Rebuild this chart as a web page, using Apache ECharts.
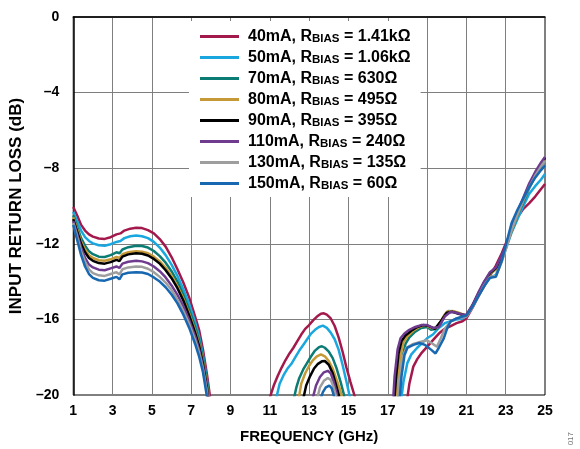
<!DOCTYPE html>
<html>
<head>
<meta charset="utf-8">
<script src="https://cdn.jsdelivr.net/npm/echarts@6/dist/echarts.min.js"></script>
<style>
html,body{margin:0;padding:0;background:#fff;}
#chart{width:580px;height:449px;}
</style>
</head>
<body>
<div id="chart"></div>
<script>
// ---- Data ----
const currents = ['40mA', '50mA', '70mA', '80mA', '90mA', '110mA', '130mA', '150mA'];
const rbias = ['1.41kΩ', '1.06kΩ', '630Ω', '495Ω', '395Ω', '240Ω', '135Ω', '60Ω'];
const colors = ['#A3194B', '#1AA7DF', '#0B7C73', '#C59A36', '#000000', '#6F3B8F', '#9E9E9E', '#1767B1'];

const xTicks = [1, 3, 5, 7, 9, 11, 13, 15, 17, 19, 21, 23, 25];
const yTicks = [0, -4, -8, -12, -16, -20];

// each curve: [frequency GHz, return loss dB]; null breaks where trace leaves the plot
const curve40mA = [
  [1,-10.05],[1.2,-10.5],[1.4,-11.0],[1.6,-11.3],[1.8,-11.5],[2.0,-11.62],[2.3,-11.72],[2.6,-11.74],[2.9,-11.65],[3.2,-11.5],[3.4,-11.45],[3.6,-11.3],[3.9,-11.2],[4.2,-11.15],[4.5,-11.17],[4.8,-11.28],[5.1,-11.45],[5.4,-11.75],[5.7,-12.15],[6.0,-12.7],[6.3,-13.35],[6.6,-14.05],[6.9,-14.85],[7.2,-15.85],[7.4,-16.55],[7.6,-17.6],[7.8,-18.9],[8.0,-20.4],
  null,
  [10.95,-20.3],[11.2,-19.5],[11.4,-19.0],[11.6,-18.55],[11.8,-18.15],[12.0,-17.8],[12.2,-17.5],[12.4,-17.15],[12.6,-16.8],[12.8,-16.5],[13.0,-16.3],[13.2,-16.05],[13.4,-15.85],[13.6,-15.7],[13.75,-15.68],[13.9,-15.75],[14.1,-15.95],[14.3,-16.35],[14.5,-16.95],[14.7,-17.7],[14.9,-18.55],[15.1,-19.3],[15.3,-20.0],[15.4,-20.4],
  null,
  [17.98,-20.3],[18.1,-19.4],[18.3,-18.5],[18.5,-18.1],[18.7,-17.8],[19.0,-17.45],[19.3,-17.1],[19.6,-16.75],[19.9,-16.5],[20.2,-16.35],[20.5,-16.2],[20.8,-16.1],[21.0,-15.95],[21.3,-15.4],[21.6,-14.8],[21.9,-14.25],[22.2,-13.7],[22.5,-13.15],[22.8,-12.5],[23.0,-12.0],[23.3,-11.3],[23.6,-10.6],[23.9,-10.15],[24.2,-9.85],[24.5,-9.5],[24.8,-9.1],[25,-8.84]
];
const curve50mA = [
  [1,-10.3],[1.2,-10.8],[1.4,-11.3],[1.6,-11.65],[1.8,-11.85],[2.0,-11.98],[2.3,-12.08],[2.6,-12.1],[2.9,-12.02],[3.2,-11.9],[3.4,-11.85],[3.6,-11.7],[3.9,-11.6],[4.2,-11.56],[4.5,-11.6],[4.8,-11.7],[5.1,-11.9],[5.4,-12.2],[5.7,-12.6],[6.0,-13.1],[6.3,-13.7],[6.6,-14.4],[6.9,-15.2],[7.2,-16.15],[7.4,-16.9],[7.6,-17.9],[7.8,-19.2],[7.95,-20.4],
  null,
  [11.3,-20.3],[11.5,-19.4],[11.7,-18.95],[11.9,-18.6],[12.1,-18.35],[12.3,-18.0],[12.5,-17.65],[12.7,-17.35],[12.9,-17.05],[13.1,-16.75],[13.3,-16.55],[13.5,-16.4],[13.7,-16.33],[13.9,-16.45],[14.1,-16.7],[14.3,-17.05],[14.5,-17.6],[14.7,-18.4],[14.9,-19.3],[15.05,-20.0],[15.15,-20.4],
  null,
  [17.68,-20.3],[17.8,-19.3],[18.0,-18.3],[18.2,-17.85],[18.5,-17.5],[18.8,-17.2],[19.0,-17.0],[19.3,-16.8],[19.6,-16.45],[19.9,-16.2],[20.2,-16.1],[20.5,-16.0],[20.8,-15.95],[21.0,-15.8],[21.3,-15.3],[21.6,-14.75],[21.9,-14.2],[22.2,-13.8],[22.5,-13.65],[22.8,-12.9],[23.0,-12.3],[23.3,-11.4],[23.6,-10.7],[23.9,-10.0],[24.2,-9.35],[24.5,-8.95],[24.8,-8.6],[25,-8.3]
];
const curve70mA = [
  [1,-10.5],[1.2,-11.1],[1.4,-11.7],[1.6,-12.1],[1.8,-12.4],[2.0,-12.55],[2.3,-12.68],[2.6,-12.7],[2.9,-12.6],[3.2,-12.45],[3.35,-12.5],[3.5,-12.3],[3.8,-12.18],[4.2,-12.1],[4.5,-12.12],[4.8,-12.2],[5.1,-12.38],[5.4,-12.65],[5.7,-13.0],[6.0,-13.45],[6.3,-14.0],[6.6,-14.7],[6.9,-15.5],[7.2,-16.4],[7.4,-17.1],[7.6,-18.05],[7.8,-19.3],[7.93,-20.4],
  null,
  [12.2,-20.3],[12.35,-19.6],[12.5,-19.1],[12.7,-18.65],[12.9,-18.3],[13.1,-17.95],[13.3,-17.65],[13.5,-17.47],[13.65,-17.42],[13.8,-17.5],[14.0,-17.7],[14.2,-18.05],[14.4,-18.6],[14.6,-19.3],[14.75,-19.9],[14.85,-20.4],
  null,
  [17.5,-20.3],[17.6,-19.2],[17.75,-18.0],[17.9,-17.3],[18.1,-16.95],[18.4,-16.65],[18.7,-16.45],[19.0,-16.4],[19.2,-16.55],[19.5,-16.5],[19.7,-16.2],[19.9,-15.75],[20.1,-15.55],[20.4,-15.6],[20.7,-15.7],[21.0,-15.8],[21.3,-15.3],[21.6,-14.7],[21.9,-14.1],[22.2,-13.6],[22.5,-13.35],[22.8,-12.75],[23.0,-12.2],[23.3,-11.35],[23.6,-10.5],[23.9,-9.8],[24.2,-9.05],[24.5,-8.45],[24.8,-7.9],[25,-7.5]
];
const curve80mA = [
  [1,-10.6],[1.2,-11.25],[1.4,-11.9],[1.6,-12.3],[1.8,-12.6],[2.0,-12.75],[2.3,-12.87],[2.6,-12.9],[2.9,-12.82],[3.2,-12.7],[3.35,-12.75],[3.5,-12.55],[3.8,-12.45],[4.2,-12.4],[4.5,-12.42],[4.8,-12.5],[5.1,-12.68],[5.4,-12.93],[5.7,-13.27],[6.0,-13.7],[6.3,-14.25],[6.6,-14.9],[6.9,-15.7],[7.2,-16.6],[7.4,-17.3],[7.6,-18.25],[7.8,-19.5],[7.9,-20.4],
  null,
  [12.45,-20.3],[12.6,-19.4],[12.8,-18.85],[13.0,-18.45],[13.2,-18.15],[13.4,-17.95],[13.6,-17.85],[13.8,-17.95],[14.0,-18.2],[14.2,-18.6],[14.4,-19.2],[14.6,-19.8],[14.72,-20.4],
  null,
  [17.42,-20.3],[17.5,-19.2],[17.65,-17.9],[17.8,-17.2],[18.0,-16.9],[18.3,-16.6],[18.6,-16.4],[18.9,-16.3],[19.2,-16.45],[19.5,-16.45],[19.8,-15.9],[20.0,-15.6],[20.3,-15.55],[20.6,-15.65],[21.0,-15.8],[21.3,-15.3],[21.6,-14.7],[21.9,-14.1],[22.2,-13.6],[22.5,-13.35],[22.8,-12.75],[23.0,-12.2],[23.3,-11.3],[23.6,-10.45],[23.9,-9.7],[24.2,-8.95],[24.5,-8.35],[24.8,-7.8],[25,-7.55]
];
const curve90mA = [
  [1,-10.7],[1.2,-11.35],[1.4,-12.0],[1.6,-12.45],[1.8,-12.75],[2.0,-12.9],[2.3,-13.02],[2.6,-13.05],[2.9,-12.97],[3.2,-12.85],[3.35,-12.92],[3.5,-12.68],[3.8,-12.56],[4.2,-12.5],[4.5,-12.53],[4.8,-12.62],[5.1,-12.8],[5.4,-13.05],[5.7,-13.4],[6.0,-13.82],[6.3,-14.35],[6.6,-15.0],[6.9,-15.8],[7.2,-16.7],[7.4,-17.4],[7.6,-18.35],[7.8,-19.6],[7.88,-20.4],
  null,
  [12.68,-20.3],[12.85,-19.5],[13.05,-19.0],[13.25,-18.6],[13.45,-18.35],[13.65,-18.22],[13.8,-18.2],[14.0,-18.4],[14.2,-18.85],[14.35,-19.4],[14.5,-19.95],[14.58,-20.4],
  null,
  [17.33,-20.3],[17.42,-19.1],[17.55,-17.8],[17.7,-17.15],[17.9,-16.85],[18.2,-16.6],[18.5,-16.4],[18.8,-16.3],[19.1,-16.35],[19.4,-16.5],[19.7,-16.1],[20.0,-15.65],[20.3,-15.6],[20.6,-15.7],[21.0,-15.8],[21.3,-15.3],[21.6,-14.65],[21.9,-14.05],[22.2,-13.55],[22.5,-13.3],[22.8,-12.7],[23.0,-12.15],[23.3,-11.25],[23.6,-10.4],[23.9,-9.65],[24.2,-8.9],[24.5,-8.3],[24.8,-7.75],[25,-7.45]
];
const curve110mA = [
  [1,-10.8],[1.2,-11.5],[1.4,-12.2],[1.6,-12.75],[1.8,-13.1],[2.0,-13.25],[2.3,-13.37],[2.6,-13.4],[2.9,-13.3],[3.2,-13.2],[3.35,-13.28],[3.5,-13.05],[3.8,-12.95],[4.2,-12.9],[4.5,-12.93],[4.8,-13.02],[5.1,-13.2],[5.4,-13.45],[5.7,-13.78],[6.0,-14.2],[6.3,-14.7],[6.6,-15.3],[6.9,-16.05],[7.2,-16.9],[7.4,-17.6],[7.6,-18.5],[7.8,-19.75],[7.86,-20.4],
  null,
  [13.15,-20.3],[13.35,-19.5],[13.55,-19.05],[13.75,-18.8],[13.95,-18.72],[14.1,-18.85],[14.25,-19.3],[14.4,-19.9],[14.48,-20.4],
  null,
  [17.27,-20.3],[17.35,-19.0],[17.5,-17.6],[17.65,-17.0],[17.85,-16.75],[18.1,-16.55],[18.4,-16.4],[18.7,-16.3],[19.0,-16.3],[19.3,-16.45],[19.6,-16.4],[19.9,-15.85],[20.2,-15.6],[20.5,-15.65],[20.8,-15.75],[21.0,-15.75],[21.3,-15.25],[21.6,-14.6],[21.9,-14.0],[22.2,-13.5],[22.5,-13.25],[22.8,-12.6],[23.0,-12.1],[23.3,-11.15],[23.6,-10.3],[23.9,-9.55],[24.2,-8.8],[24.5,-8.2],[24.8,-7.7],[25,-7.4]
];
const curve130mA = [
  [1,-10.9],[1.2,-11.65],[1.4,-12.4],[1.6,-12.95],[1.8,-13.35],[2.0,-13.55],[2.3,-13.67],[2.6,-13.7],[2.9,-13.6],[3.2,-13.5],[3.35,-13.62],[3.5,-13.35],[3.8,-13.25],[4.2,-13.2],[4.5,-13.22],[4.8,-13.32],[5.1,-13.5],[5.4,-13.75],[5.7,-14.05],[6.0,-14.45],[6.3,-14.95],[6.6,-15.55],[6.9,-16.25],[7.2,-17.1],[7.4,-17.75],[7.6,-18.65],[7.8,-19.85],[7.84,-20.4],
  null,
  [13.38,-20.3],[13.55,-19.6],[13.75,-19.25],[13.95,-19.1],[14.1,-19.2],[14.25,-19.6],[14.35,-20.0],[14.4,-20.4],
  null,
  [17.5,-20.3],[17.6,-19.1],[17.75,-18.0],[17.95,-17.5],[18.3,-17.3],[18.65,-17.2],[19.0,-17.1],[19.3,-17.3],[19.5,-17.45],[19.7,-17.0],[19.9,-16.5],[20.2,-16.1],[20.5,-15.95],[20.8,-15.9],[21.0,-15.85],[21.3,-15.4],[21.6,-14.8],[21.9,-14.2],[22.2,-13.75],[22.5,-13.7],[22.8,-12.95],[23.0,-12.3],[23.3,-11.3],[23.6,-10.45],[23.9,-9.7],[24.2,-9.0],[24.5,-8.4],[24.8,-7.9],[25,-7.6]
];
const curve150mA = [
  [1,-11.0],[1.2,-11.8],[1.4,-12.6],[1.6,-13.2],[1.8,-13.6],[2.0,-13.8],[2.3,-13.93],[2.6,-13.95],[2.9,-13.85],[3.2,-13.75],[3.35,-13.88],[3.5,-13.62],[3.8,-13.53],[4.2,-13.5],[4.5,-13.52],[4.8,-13.6],[5.1,-13.78],[5.4,-14.0],[5.7,-14.3],[6.0,-14.68],[6.3,-15.15],[6.6,-15.75],[6.9,-16.45],[7.2,-17.3],[7.4,-17.95],[7.6,-18.8],[7.78,-19.95],[7.82,-20.4],
  null,
  [13.55,-20.3],[13.7,-19.85],[13.85,-19.6],[14.03,-19.5],[14.15,-19.65],[14.25,-20.0],[14.3,-20.4],
  null,
  [17.6,-20.3],[17.7,-19.0],[17.85,-17.9],[18.0,-17.5],[18.3,-17.35],[18.6,-17.25],[18.9,-17.35],[19.2,-17.6],[19.43,-17.8],[19.6,-17.5],[19.85,-17.0],[20.05,-16.4],[20.2,-16.1],[20.5,-15.95],[20.8,-15.85],[21.0,-15.8],[21.3,-15.35],[21.6,-14.8],[21.9,-14.25],[22.2,-13.8],[22.5,-13.75],[22.8,-12.9],[23.0,-12.1],[23.3,-10.9],[23.6,-10.2],[23.9,-9.6],[24.2,-9.0],[24.5,-8.5],[24.8,-8.1],[25,-7.85]
];
const curves = [curve40mA, curve50mA, curve70mA, curve80mA, curve90mA, curve110mA, curve130mA, curve150mA];

// ---- Chart ----
const FONT = '"Liberation Sans", Arial, sans-serif';
const names = currents.map((c, i) => c + ', RBIAS = ' + rbias[i]);

const chart = echarts.init(document.getElementById('chart'), null, {renderer: 'canvas'});
chart.setOption({
  animation: false,
  backgroundColor: '#fff',
  grid: {left: 71, right: 35, top: 17, bottom: 52, show: true, borderColor: '#000', borderWidth: 1, backgroundColor: 'transparent'},
  xAxis: {
    type: 'value', min: xTicks[0], max: xTicks[xTicks.length - 1], interval: 2,
    name: 'FREQUENCY (GHz)', nameLocation: 'middle', nameGap: 34,
    nameTextStyle: {fontFamily: FONT, fontWeight: 'bold', fontSize: 15, color: '#000'},
    axisLine: {lineStyle: {color: '#000', width: 1.5}},
    axisTick: {show: false},
    axisLabel: {fontFamily: FONT, fontWeight: 'bold', fontSize: 14, color: '#000', margin: 9},
    splitLine: {show: true, lineStyle: {color: '#7f7f7f', width: 1}}
  },
  yAxis: {
    type: 'value', min: yTicks[yTicks.length - 1], max: yTicks[0], interval: 4,
    name: 'INPUT RETURN LOSS (dB)', nameLocation: 'middle', nameGap: 43, nameRotate: 90,
    nameTextStyle: {fontFamily: FONT, fontWeight: 'bold', fontSize: 17, color: '#000'},
    axisLine: {show: true, lineStyle: {color: '#000', width: 1.5}},
    axisTick: {show: false},
    axisLabel: {fontFamily: FONT, fontWeight: 'bold', fontSize: 14, color: '#000', margin: 14,
      formatter: v => v < 0 ? '\u2013' + (-v) : String(v)},
    splitLine: {show: true, lineStyle: {color: '#7f7f7f', width: 1}}
  },
  legend: {
    orient: 'vertical', left: 189, top: 21,
    backgroundColor: '#fff', borderWidth: 0,
    padding: [7, 10, 5, 11],
    itemWidth: 39, itemHeight: 3, itemGap: 4, icon: 'rect',
    data: names,
    formatter: name => {
      const i = names.indexOf(name);
      return '{a|' + currents[i] + ', R}{s|BIAS}{a| = ' + rbias[i] + '}';
    },
    textStyle: {
      padding: [0, 0, 0, 4],
      lineHeight: 17,
      rich: {
        a: {fontFamily: FONT, fontWeight: 'bold', fontSize: 16, color: '#000', lineHeight: 17},
        s: {fontFamily: FONT, fontWeight: 'bold', fontSize: 11.5, color: '#000', lineHeight: 5, verticalAlign: 'bottom'}
      }
    }
  },
  graphic: [{
    type: 'text', left: 567, top: 432, rotation: Math.PI / 2,
    style: {text: '017', fontFamily: FONT, fontSize: 8, fill: '#777'}
  }],
  series: curves.map((d, i) => ({
    name: names[i], type: 'line', data: d, showSymbol: false, symbol: 'none',
    clip: true, connectNulls: false,
    lineStyle: {color: colors[i], width: 2.5}, itemStyle: {color: colors[i]}
  }))
});
</script>
</body>
</html>
